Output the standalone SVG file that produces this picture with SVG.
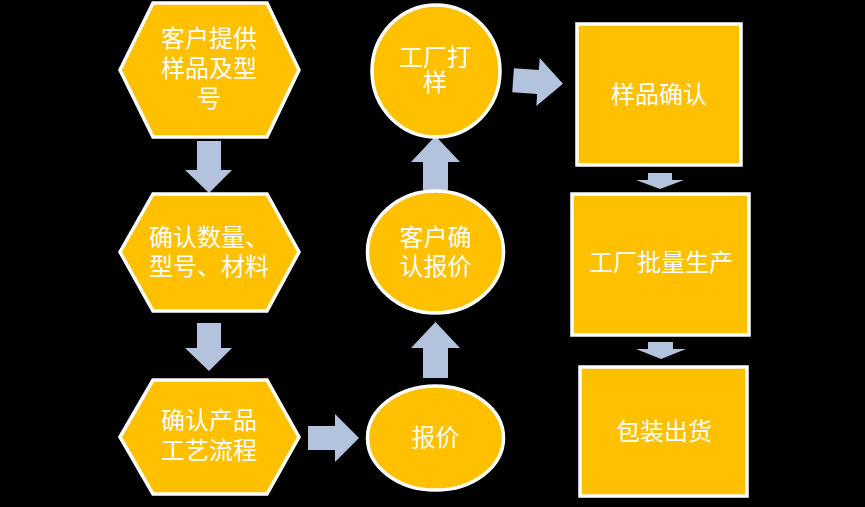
<svg xmlns="http://www.w3.org/2000/svg" width="865" height="507" viewBox="0 0 865 507">
<style>
.n{fill:#FFC000;stroke:#FFFFFF;stroke-width:3.5}
.a{fill:#B3C3DD;stroke:none}
.t{fill:#FFFFFF;font-family:"Noto Sans CJK SC","Noto Sans",sans-serif;font-size:24px;text-anchor:middle}
</style>
<rect width="865" height="507" fill="#000000"/>
<g id="connectors">
<polygon class="a" points="197,141 221,141 221,170 232,170 209,193 185,170 197,170"/>
<polygon class="a" points="197,323 221,323 221,348 232,348 209,371 185,348 197,348"/>
<polygon class="a" points="308,426 335,426 335,414 359,438 335,462 335,450 308,450"/>
<polygon class="a" points="423,378 448,378 448,348 460,348 435.5,322 411,348 423,348"/>
<polygon class="a" points="423,190 448,190 448,162 460,162 435.5,136 411,162 423,162"/>
<polygon class="a" transform="rotate(4 538 82)" points="513,70 538,70 538,58 563,82 538,106 538,94 513,94"/>
<polygon class="a" points="648,173 672,173 672,180 684,180 660,189 636,180 648,180"/>
<polygon class="a" points="648,342 673,342 673,349 686,349 661,359 636,349 648,349"/>
</g>
<g id="n1">
<polygon class="n" points="120,70 153,3 267,3 299,70 267,137 153,137"/>
<text class="t" x="209" y="47">客户提供</text>
<text class="t" x="209" y="77">样品及型</text>
<text class="t" x="209" y="107">号</text>
</g>
<g id="n2">
<polygon class="n" points="120,252 153,194 267,194 299,252 267,311 153,311"/>
<text class="t" x="209" y="246">确认数量、</text>
<text class="t" x="209" y="275">型号、材料</text>
</g>
<g id="n3">
<polygon class="n" points="120,437 153,380 267,380 299,437 267,494 153,494"/>
<text class="t" x="209" y="429">确认产品</text>
<text class="t" x="209" y="459">工艺流程</text>
</g>
<g id="n4">
<ellipse class="n" cx="435.5" cy="438" rx="68" ry="52"/>
<text class="t" x="435.5" y="446">报价</text>
</g>
<g id="n5">
<ellipse class="n" cx="435.5" cy="252" rx="68" ry="61"/>
<text class="t" x="435.5" y="246">客户确</text>
<text class="t" x="435.5" y="275">认报价</text>
</g>
<g id="n6">
<ellipse class="n" cx="436" cy="71" rx="64" ry="66"/>
<text class="t" x="435" y="66">工厂打</text>
<text class="t" x="435" y="91">样</text>
</g>
<g id="n7">
<rect class="n" x="577" y="24" width="164" height="141"/>
<text class="t" x="659" y="103">样品确认</text>
</g>
<g id="n8">
<rect class="n" x="572" y="194" width="177" height="141"/>
<text class="t" x="661" y="271">工厂批量生产</text>
</g>
<g id="n9">
<rect class="n" x="580" y="367" width="167" height="129"/>
<text class="t" x="664" y="440">包装出货</text>
</g>
</svg>
